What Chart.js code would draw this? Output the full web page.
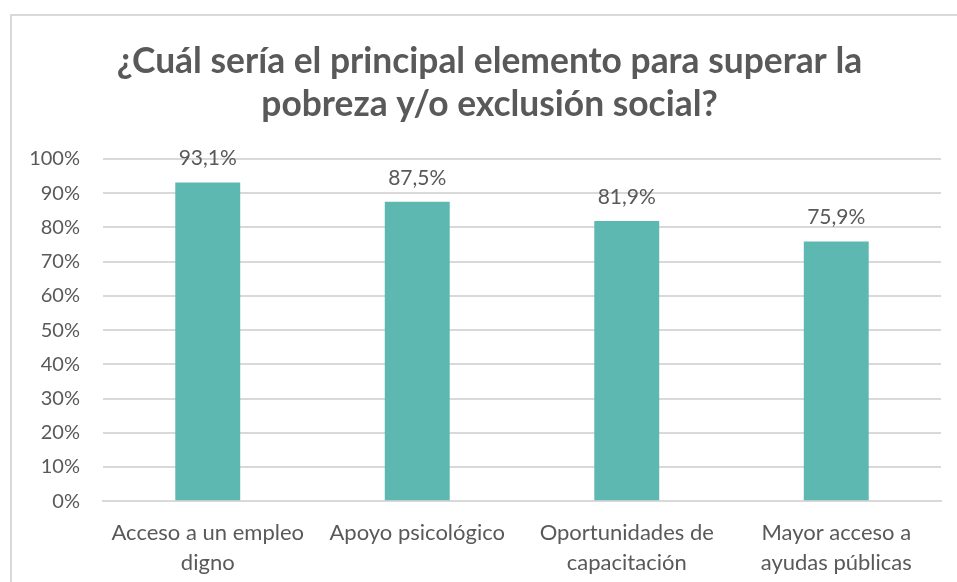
<!DOCTYPE html>
<html>
<head>
<meta charset="utf-8">
<script src="https://cdn.jsdelivr.net/npm/chart.js@4"></script>
<style>
    body { margin: 0; background: #fff; overflow: hidden; }
    #frame {
        position: absolute;
        left: 10px;
        top: 14px;
        width: 960px;
        height: 580px;
        border: 2px solid #d9d9d9;
        box-sizing: border-box;
    }
</style>
</head>
<body>
<div id="frame"><canvas id="chart"></canvas></div>
<script>
const categories = [
    ['Acceso a un empleo', 'digno'],
    'Apoyo psicológico',
    ['Oportunidades de', 'capacitación'],
    ['Mayor acceso a', 'ayudas públicas']
];
const values = [93.1, 87.5, 81.9, 75.9];
const titleLines = [
    '¿Cuál sería el principal elemento para superar la',
    'pobreza y/o exclusión social?'
];

const FONT = 'Lato, "Open Sans", sans-serif';
const TEXT = '#595959';

// Bar value labels, drawn above each bar
const valueLabels = {
    id: 'valueLabels',
    afterDatasetsDraw(chart) {
        const ctx = chart.ctx;
        const meta = chart.getDatasetMeta(0);
        ctx.save();
        ctx.font = '21px ' + FONT;
        ctx.fillStyle = TEXT;
        ctx.textAlign = 'center';
        ctx.textBaseline = 'middle';
        meta.data.forEach(function (bar, i) {
            const label = values[i].toFixed(1).replace('.', ',') + '%';
            ctx.fillText(label, bar.x, bar.y - 24);
        });
        ctx.restore();
    }
};

// Title centred on the frame, not on the plot
const chartTitle = {
    id: 'chartTitle',
    afterDraw(chart) {
        const ctx = chart.ctx;
        ctx.save();
        ctx.font = 'bold 35.4px ' + FONT;
        ctx.fillStyle = TEXT;
        ctx.textAlign = 'center';
        ctx.textBaseline = 'middle';
        titleLines.forEach(function (line, i) {
            ctx.fillText(line, 477.5, 46 + i * 43);
        });
        ctx.restore();
    }
};

const canvas = document.getElementById('chart');
canvas.width = 956;
canvas.height = 576;

new Chart(canvas, {
    type: 'bar',
    data: {
        labels: categories,
        datasets: [
            {
                data: values,
                backgroundColor: '#5db8b2',
                categoryPercentage: 1,
                barPercentage: 0.31
            }
        ]
    },
    options: {
        responsive: false,
        animation: false,
        layout: {
            padding: { left: 0, right: 27, top: 143, bottom: 5 }
        },
        plugins: {
            legend: { display: false },
            tooltip: { enabled: false },
            title: { display: false }
        },
        scales: {
            x: {
                grid: { display: false },
                border: { color: '#d9d9d9', width: 2 },
                ticks: {
                    color: TEXT,
                    maxRotation: 0,
                    padding: 9,
                    font: { family: FONT, size: 22, lineHeight: 1.36 }
                }
            },
            y: {
                min: 0,
                max: 100,
                border: { display: false },
                grid: { color: '#d9d9d9', lineWidth: 2, drawTicks: false },
                afterFit: function (scale) {
                    scale.width = 91;
                },
                ticks: {
                    stepSize: 10,
                    color: TEXT,
                    padding: 23,
                    font: { family: FONT, size: 20 },
                    callback: function (v) { return v + '%'; }
                }
            }
        }
    },
    plugins: [valueLabels, chartTitle]
});
</script>
</body>
</html>
